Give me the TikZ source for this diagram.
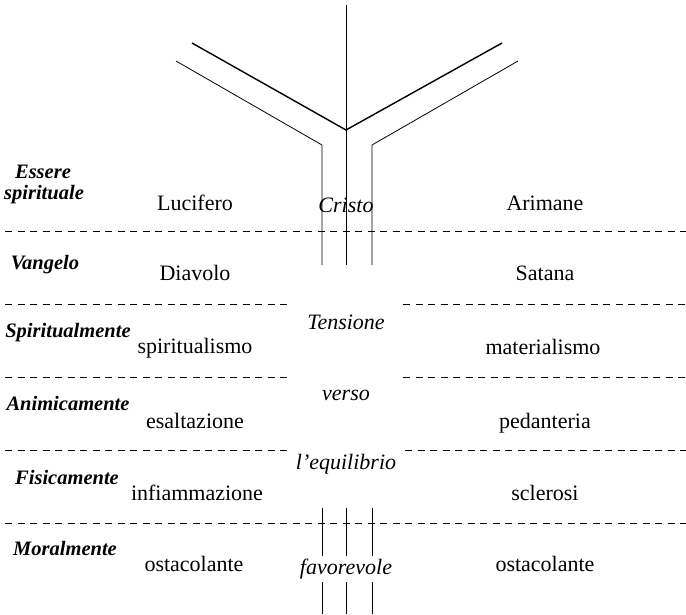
\documentclass[tikz,border=0pt]{standalone}
\usepackage{fontspec}
\setmainfont{Liberation Serif}
\begin{document}
\begin{tikzpicture}[x=1pt,y=-1pt,
  val/.style={font=\fontsize{22}{24}\selectfont, inner sep=0pt, anchor=base},
  cen/.style={font=\fontsize{22}{24}\selectfont\itshape, inner sep=0pt, anchor=base},
  lab/.style={font=\fontsize{20.5}{21}\selectfont\bfseries\itshape, inner sep=0pt, anchor=base},
  sep/.style={dash pattern=on 7pt off 5.5pt, line width=0.9pt},
  thin/.style={line width=0.8pt},
  thick/.style={line width=1.4pt}]
\useasboundingbox (0,0) rectangle (686,614);
% Y structure
\coordinate (top) at (346,5);
\coordinate (fork) at (346,130);
\coordinate (stemb) at (346,265);
\coordinate (tl) at (192,43);
\coordinate (tr) at (502,43);
\coordinate (ol) at (176,61);
\coordinate (olk) at (322,145);
\coordinate (olb) at (322,265);
\coordinate (or) at (518,61);
\coordinate (ork) at (372,145);
\coordinate (orb) at (372,265);
\draw[line width=1.0pt] (top) -- (stemb);
\draw[thick] (tl) -- (fork) -- (tr);
\draw[thin] (ol) -- (olk) -- (olb);
\draw[thin] (or) -- (ork) -- (orb);
% bottom lines
\coordinate (b1t) at (322,508); \coordinate (b1b) at (322,614);
\coordinate (b2t) at (346,508); \coordinate (b2b) at (346,614);
\coordinate (b3t) at (372,508); \coordinate (b3b) at (372,614);
\draw[thin] (b1t) -- (b1b);
\draw[line width=1.0pt] (b2t) -- (b2b);
\draw[thin] (b3t) -- (b3b);
% dashed separators
\coordinate (d1l) at (5,231); \coordinate (d1r) at (686,231);
\coordinate (d2l) at (5,304); \coordinate (d2m) at (290,304);
\coordinate (d2n) at (403,304); \coordinate (d2r) at (686,304);
\coordinate (d3l) at (5,377); \coordinate (d3m) at (290,377);
\coordinate (d3n) at (403,377); \coordinate (d3r) at (686,377);
\coordinate (d4l) at (5,450); \coordinate (d4m) at (290,450);
\coordinate (d4n) at (405,450); \coordinate (d4r) at (686,450);
\coordinate (d5l) at (5,523); \coordinate (d5r) at (686,523);
\draw[sep] (d1l) -- (d1r);
\draw[sep] (d2l) -- (d2m); \draw[sep] (d2n) -- (d2r);
\draw[sep] (d3l) -- (d3m); \draw[sep] (d3n) -- (d3r);
\draw[sep] (d4l) -- (d4m); \draw[sep] (d4n) -- (d4r);
\draw[sep] (d5l) -- (d5r);
% row labels
\node[lab] (l1a) at (43,178) {Essere};
\node[lab] (l1b) at (44,199) {spirituale};
\node[lab] (l2) at (45,269) {Vangelo};
\node[lab] (l3) at (68,337) {Spiritualmente};
\node[lab] (l4) at (68,410) {Animicamente};
\node[lab] (l5) at (67,484) {Fisicamente};
\node[lab] (l6) at (65,555) {Moralmente};
% left values
\node[val] (v1) at (195,210) {Lucifero};
\node[val] (v2) at (195,280) {Diavolo};
\node[val] (v3) at (195,353) {spiritualismo};
\node[val] (v4) at (195,428) {esaltazione};
\node[val] (v5) at (197,500) {infiammazione};
\node[val] (v6) at (194,571) {ostacolante};
% right values
\node[val] (r1) at (545,210) {Arimane};
\node[val] (r2) at (545,280) {Satana};
\node[val] (r3) at (543,354) {materialismo};
\node[val] (r4) at (545,428) {pedanteria};
\node[val] (r5) at (545,500) {sclerosi};
\node[val] (r6) at (545,571) {ostacolante};
% centre
\node[cen] (c1) at (346,212) {Cristo};
\node[cen] (c2) at (346,329) {Tensione};
\node[cen] (c3) at (346,400) {verso};
\node[cen] (c4) at (346,469) {l’equilibrio};
\node[cen, fill=white, inner ysep=3pt, inner xsep=1pt] (c5) at (346,574) {favorevole};
\end{tikzpicture}
\end{document}
